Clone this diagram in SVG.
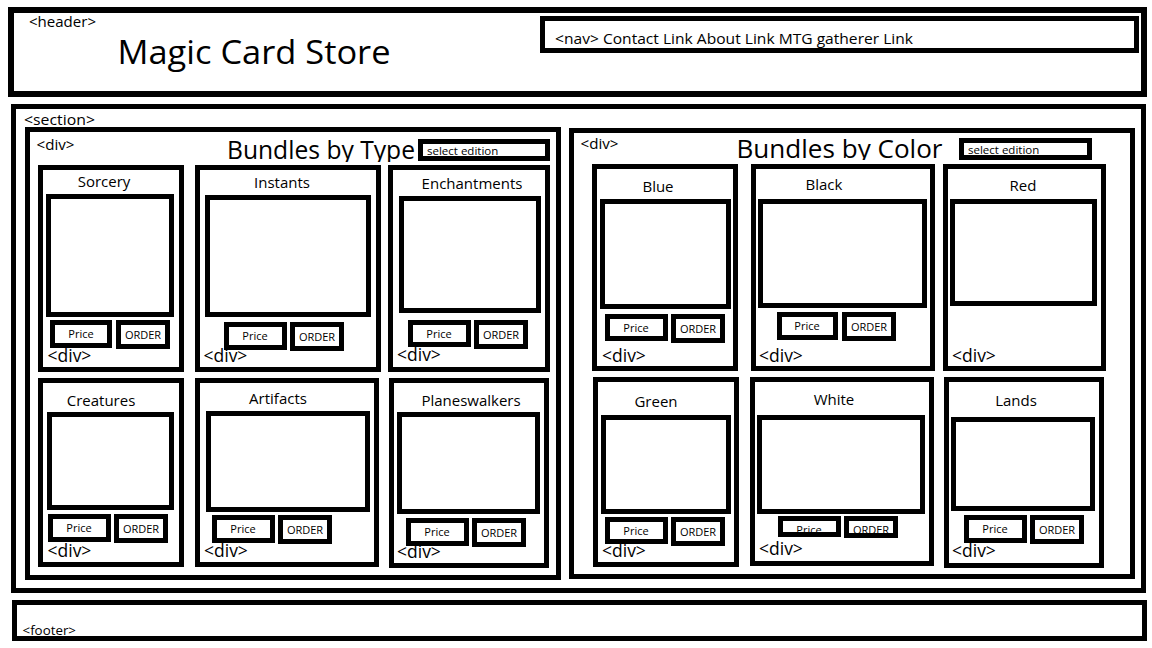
<svg xmlns="http://www.w3.org/2000/svg" width="1152" height="648" viewBox="0 0 1152 648">
  <style>
    .box { fill: #ffffff; stroke: #000000; stroke-width: 5; }
    .heavy { stroke-width: 6; }
    .t { font-family: "Open Sans", "Liberation Sans", sans-serif; fill: #000000; }
    .small { font-size: 14.5px; }
    .title { font-size: 15px; text-anchor: middle; }
    .btn { font-size: 11px; text-anchor: middle; }
    .tag { font-size: 17.5px; }
    .heading { font-size: 25px; }
    .sel { font-size: 11.5px; }
  </style>
  <defs>
    <clipPath id="clip-type-heading"><rect x="200" y="128" width="220" height="34"/></clipPath>
    <clipPath id="clip-color-heading"><rect x="700" y="128" width="260" height="32"/></clipPath>
    <clipPath id="clip-white-price"><rect x="783" y="521" width="53" height="11"/></clipPath>
    <clipPath id="clip-white-order"><rect x="849" y="521" width="44" height="12"/></clipPath>
  </defs>

  <rect width="1152" height="648" fill="#ffffff"/>

  <!-- page header with title and navigation -->
  <g id="header">
    <rect class="box heavy" x="11" y="10" width="1133" height="84"/>
    <text class="t small" x="29" y="27" textLength="67" lengthAdjust="spacingAndGlyphs">&lt;header&gt;</text>
    <text class="t" x="117.5" y="63.5" font-size="33" textLength="273" lengthAdjust="spacingAndGlyphs">Magic Card Store</text>
  </g>
  <g id="nav">
    <rect class="box" x="542.5" y="18.5" width="594" height="32"/>
    <text class="t" x="555" y="43.5" font-size="15" textLength="358" lengthAdjust="spacingAndGlyphs">&lt;nav&gt; Contact Link About Link MTG gatherer Link</text>
  </g>

  <!-- main section -->
  <g id="section">
    <rect class="box" x="13.5" y="106.5" width="1130" height="484"/>
    <text class="t small" x="24" y="125" font-size="15.5" textLength="71" lengthAdjust="spacingAndGlyphs">&lt;section&gt;</text>
  </g>

  <!-- bundles by type -->
  <g id="div-type">
    <rect class="box" x="27.5" y="129.5" width="531" height="448"/>
    <text class="t" x="36.5" y="150" font-size="15" textLength="38" lengthAdjust="spacingAndGlyphs">&lt;div&gt;</text>
    <text class="t heading" x="227" y="158.5" textLength="188" lengthAdjust="spacingAndGlyphs" clip-path="url(#clip-type-heading)">Bundles by Type</text>
    <rect class="box" x="420.5" y="141.5" width="127" height="17"/>
    <text class="t sel" x="427" y="155">select edition</text>
  </g>

  <g id="card-sorcery">
    <rect class="box" x="40.5" y="167.5" width="141" height="202"/>
    <text class="t title" x="104" y="187">Sorcery</text>
    <rect class="box" x="48.5" y="196.5" width="123" height="118"/>
    <rect class="box" x="52.5" y="322.5" width="57" height="23"/>
    <text class="t btn" x="81" y="338">Price</text>
    <rect class="box" x="118.5" y="322.5" width="49" height="24"/>
    <text class="t btn" x="143" y="339">ORDER</text>
    <text class="t tag" x="47.5" y="361.5">&lt;div&gt;</text>
  </g>

  <g id="card-instants">
    <rect class="box" x="197.5" y="167.5" width="181" height="202"/>
    <text class="t title" x="282" y="188">Instants</text>
    <rect class="box" x="207.5" y="197.5" width="161" height="117"/>
    <rect class="box" x="226.5" y="324.5" width="58" height="23"/>
    <text class="t btn" x="255" y="340">Price</text>
    <rect class="box" x="292.5" y="324.5" width="49" height="24"/>
    <text class="t btn" x="317" y="341">ORDER</text>
    <text class="t tag" x="203.5" y="362">&lt;div&gt;</text>
  </g>

  <g id="card-enchantments">
    <rect class="box" x="390.5" y="167.5" width="157" height="202"/>
    <text class="t title" x="472" y="189">Enchantments</text>
    <rect class="box" x="401.5" y="198.5" width="137" height="112"/>
    <rect class="box" x="410.5" y="322.5" width="58" height="22"/>
    <text class="t btn" x="439" y="338">Price</text>
    <rect class="box" x="476.5" y="322.5" width="49" height="24"/>
    <text class="t btn" x="501" y="339">ORDER</text>
    <text class="t tag" x="397" y="361">&lt;div&gt;</text>
  </g>

  <g id="card-creatures">
    <rect class="box" x="40.5" y="380.5" width="141" height="184"/>
    <text class="t title" x="101" y="406">Creatures</text>
    <rect class="box" x="49.5" y="414.5" width="122" height="93"/>
    <rect class="box" x="50.5" y="516.5" width="58" height="23"/>
    <text class="t btn" x="79" y="532">Price</text>
    <rect class="box" x="116.5" y="516.5" width="49" height="24"/>
    <text class="t btn" x="141" y="533">ORDER</text>
    <text class="t tag" x="47.5" y="557">&lt;div&gt;</text>
  </g>

  <g id="card-artifacts">
    <rect class="box" x="197.5" y="380.5" width="179" height="184"/>
    <text class="t title" x="278" y="404">Artifacts</text>
    <rect class="box" x="208.5" y="413.5" width="159" height="96"/>
    <rect class="box" x="214.5" y="517.5" width="58" height="23"/>
    <text class="t btn" x="243" y="533">Price</text>
    <rect class="box" x="280.5" y="517.5" width="49" height="24"/>
    <text class="t btn" x="305" y="534">ORDER</text>
    <text class="t tag" x="204" y="557">&lt;div&gt;</text>
  </g>

  <g id="card-planeswalkers">
    <rect class="box" x="391.5" y="380.5" width="155" height="185"/>
    <text class="t title" x="471" y="406">Planeswalkers</text>
    <rect class="box" x="399.5" y="414.5" width="138" height="97"/>
    <rect class="box" x="408.5" y="520.5" width="58" height="23"/>
    <text class="t btn" x="437" y="536">Price</text>
    <rect class="box" x="474.5" y="520.5" width="49" height="24"/>
    <text class="t btn" x="499" y="537">ORDER</text>
    <text class="t tag" x="397" y="558">&lt;div&gt;</text>
  </g>

  <!-- bundles by color -->
  <g id="div-color">
    <rect class="box" x="571.5" y="130.5" width="561" height="446"/>
    <text class="t" x="580.5" y="148.5" font-size="15" textLength="38" lengthAdjust="spacingAndGlyphs">&lt;div&gt;</text>
    <text class="t heading" x="736.5" y="158.3" textLength="206" lengthAdjust="spacingAndGlyphs" clip-path="url(#clip-color-heading)">Bundles by Color</text>
    <rect class="box" x="961.5" y="140.5" width="128" height="17"/>
    <text class="t sel" x="968" y="154">select edition</text>
  </g>

  <g id="card-blue">
    <rect class="box" x="594.5" y="166.5" width="141" height="202"/>
    <text class="t title" x="658" y="192">Blue</text>
    <rect class="box" x="602.5" y="201.5" width="126" height="105"/>
    <rect class="box" x="607.5" y="316.5" width="58" height="22"/>
    <text class="t btn" x="636" y="332">Price</text>
    <rect class="box" x="673.5" y="316.5" width="49" height="24"/>
    <text class="t btn" x="698" y="333">ORDER</text>
    <text class="t tag" x="602" y="362">&lt;div&gt;</text>
  </g>

  <g id="card-black">
    <rect class="box" x="753.5" y="166.5" width="179" height="202"/>
    <text class="t title" x="824" y="190">Black</text>
    <rect class="box" x="760.5" y="201.5" width="164" height="104"/>
    <rect class="box" x="779.5" y="314.5" width="56" height="23"/>
    <text class="t btn" x="807" y="330">Price</text>
    <rect class="box" x="844.5" y="314.5" width="49" height="24"/>
    <text class="t btn" x="869" y="331">ORDER</text>
    <text class="t tag" x="759" y="362">&lt;div&gt;</text>
  </g>

  <g id="card-red">
    <rect class="box" x="945.5" y="166.5" width="158" height="202"/>
    <text class="t title" x="1023" y="191">Red</text>
    <rect class="box" x="952.5" y="201.5" width="142" height="102"/>
    <text class="t tag" x="952" y="362">&lt;div&gt;</text>
  </g>

  <g id="card-green">
    <rect class="box" x="595.5" y="379.5" width="141" height="185"/>
    <text class="t title" x="656" y="407">Green</text>
    <rect class="box" x="603.5" y="417.5" width="125" height="94"/>
    <rect class="box" x="607.5" y="519.5" width="58" height="22"/>
    <text class="t btn" x="636" y="535">Price</text>
    <rect class="box" x="673.5" y="519.5" width="49" height="24"/>
    <text class="t btn" x="698" y="536">ORDER</text>
    <text class="t tag" x="602" y="557">&lt;div&gt;</text>
  </g>

  <!-- the buttons here are too short, so their labels are cut off at the bottom -->
  <g id="card-white">
    <rect class="box" x="752.5" y="379.5" width="179" height="184"/>
    <text class="t title" x="834" y="405">White</text>
    <rect class="box" x="759.5" y="417.5" width="163" height="94"/>
    <rect class="box" x="780.5" y="518.5" width="58" height="16"/>
    <text class="t btn" x="809" y="533.5" clip-path="url(#clip-white-price)">Price</text>
    <rect class="box" x="846.5" y="518.5" width="49" height="17"/>
    <text class="t btn" x="871" y="534" clip-path="url(#clip-white-order)">ORDER</text>
    <text class="t tag" x="759" y="555">&lt;div&gt;</text>
  </g>

  <g id="card-lands">
    <rect class="box" x="946.5" y="379.5" width="155" height="186"/>
    <text class="t title" x="1016" y="406">Lands</text>
    <rect class="box" x="953.5" y="419.5" width="139" height="89"/>
    <rect class="box" x="966.5" y="517.5" width="58" height="23"/>
    <text class="t btn" x="995" y="533">Price</text>
    <rect class="box" x="1032.5" y="517.5" width="49" height="24"/>
    <text class="t btn" x="1057" y="534">ORDER</text>
    <text class="t tag" x="952" y="557">&lt;div&gt;</text>
  </g>

  <!-- page footer -->
  <g id="footer">
    <rect class="box" x="14.5" y="602.5" width="1130" height="36"/>
    <text class="t" x="22.5" y="635" font-size="13.5" textLength="53.5" lengthAdjust="spacingAndGlyphs">&lt;footer&gt;</text>
  </g>
</svg>
